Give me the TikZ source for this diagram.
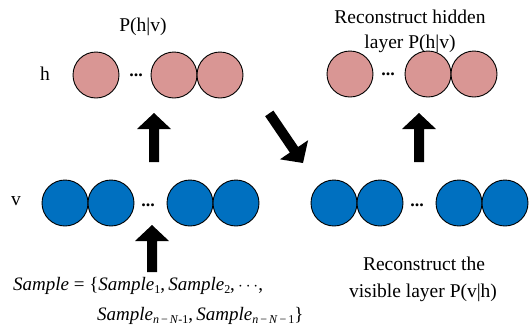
\documentclass[tikz,border=0pt]{standalone}
\usepackage{fontspec}
\setmainfont{Liberation Serif}
\definecolor{hidfill}{HTML}{D99694}
\definecolor{visfill}{HTML}{0070C0}
\newcommand\smp{\textit{Sample}}
\newcommand\sbs[1]{\raisebox{-0.35ex}{\fontsize{12}{12}\selectfont #1}}
% block arrow: tip at #1, direction angle #2 (degrees), total length #3
\newcommand\blockarrow[3]{%
  \fill[shift={#1},rotate=#2] (0,0) -- (-16,17) -- (-16,5) -- (-#3,5)
    -- (-#3,-5) -- (-16,-5) -- (-16,-17) -- cycle;}
\begin{document}
\begin{tikzpicture}[x=1pt,y=-1pt,
  hunit/.style={circle,draw=black,line width=0.9pt,fill=hidfill,minimum size=46pt,inner sep=0pt},
  vunit/.style={circle,draw=black,line width=0.9pt,fill=visfill,minimum size=46pt,inner sep=0pt},
  ellip/.style={anchor=base,inner sep=0pt,font=\fontsize{18}{18}\selectfont\bfseries},
  lbl/.style={anchor=base,inner sep=0pt,font=\fontsize{19.5}{23}\selectfont}]
\useasboundingbox (0,0) rectangle (531,333);

% hidden layer (left)
\node[hunit] (h1) at (96,75) {};
\node[hunit] (h2) at (174,75) {};
\node[hunit] (h3) at (220,75) {};
\node[ellip] (hd) at (136,76.5) {...};
\node[lbl] (hlab) at (45,80) {h};
\node[lbl] (phv) at (143,31) {P(h|v)};

% visible layer (left)
\node[vunit] (v1) at (65,203) {};
\node[vunit] (v2) at (111,203) {};
\node[vunit] (v3) at (190,203) {};
\node[vunit] (v4) at (236,203) {};
\node[ellip] (vd) at (148,206.5) {...};
\node[lbl] (vlab) at (16,205) {v};

% reconstructed hidden layer (right)
\node[hunit] (rh1) at (350,74) {};
\node[hunit] (rh2) at (428,74) {};
\node[hunit] (rh3) at (474,74) {};
\node[ellip] (rhd) at (388,75.5) {...};
\node[lbl] (rht1) at (410,23) {Reconstruct hidden};
\node[lbl] (rht2) at (410,48) {layer P(h|v)};

% reconstructed visible layer (right)
\node[vunit] (rv1) at (334,203) {};
\node[vunit] (rv2) at (380,203) {};
\node[vunit] (rv3) at (459,203) {};
\node[vunit] (rv4) at (505,203) {};
\node[ellip] (rvd) at (417,206.5) {...};
\node[lbl] (rvt1) at (424,270) {Reconstruct the};
\node[lbl] (rvt2) at (423,297) {visible layer P(v|h)};

% training samples
\node[anchor=base west,inner sep=0pt,font=\fontsize{19}{23}\selectfont] (s1) at (13,290)
  {\smp\ = \{\smp\sbs{1},\,\smp\sbs{2},\,$\cdots$,};
\node[anchor=base west,inner sep=0pt,font=\fontsize{19}{23}\selectfont] (s2) at (97,320)
  {\smp\sbs{\textit{n}\,\textminus\,\textit{N}-1},\,\smp\sbs{\textit{n}\,\textminus\,\textit{N}\,\textminus\,1}\}};

% flow arrows
\blockarrow{(154,113)}{90}{49}
\blockarrow{(419,113)}{90}{49}
\blockarrow{(152,225)}{90}{47}
\blockarrow{(303,163)}{-55.8}{60}
\end{tikzpicture}
\end{document}
